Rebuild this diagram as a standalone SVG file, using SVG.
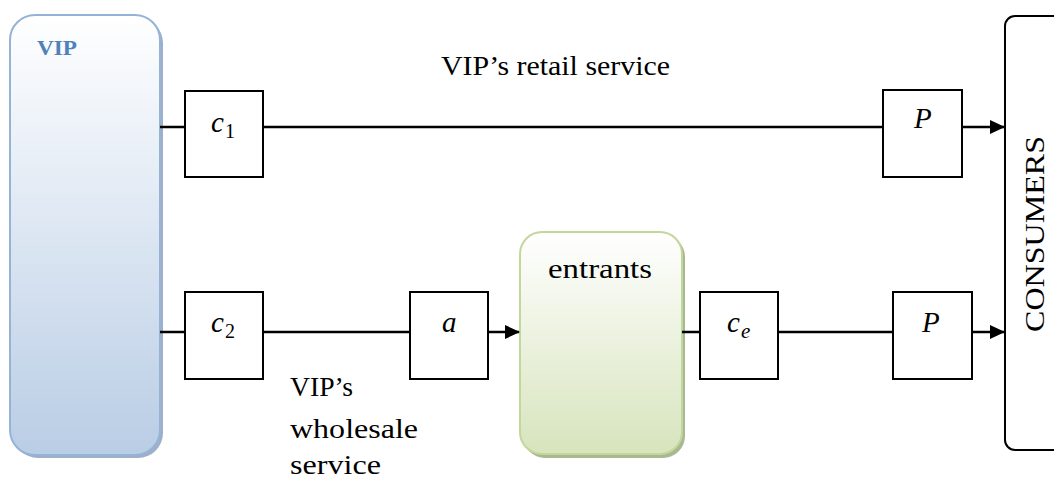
<svg xmlns="http://www.w3.org/2000/svg" width="1054" height="480" viewBox="0 0 1054 480">
<defs>
<linearGradient id="gBlue" x1="0" y1="0" x2="0" y2="1">
<stop offset="0" stop-color="#ffffff"/>
<stop offset="1" stop-color="#b9cde5"/>
</linearGradient>
<linearGradient id="gGreen" x1="0" y1="0" x2="0" y2="1">
<stop offset="0" stop-color="#ffffff"/>
<stop offset="1" stop-color="#d7e4bd"/>
</linearGradient>
<marker id="arr" markerWidth="15" markerHeight="14" refX="14" refY="7" orient="auto" markerUnits="userSpaceOnUse">
<path d="M0,0 L15,7 L0,14 Z" fill="#000"/>
</marker>
</defs>
<style>
.box{fill:#fff;stroke:#000;stroke-width:2}
.ln{stroke:#000;stroke-width:2.5;fill:none}
text{font-family:'Liberation Serif','DejaVu Serif',serif;fill:#000}
.m{font-style:italic;font-size:29px}
.sub{font-style:normal;font-size:20px}
.subi{font-style:italic;font-size:21px}
</style>
<rect width="1054" height="480" fill="#fff"/>
<g id="vip">
<rect x="13" y="18" width="150" height="440" rx="25" fill="#9eb0c8"/>
<rect x="10" y="15" width="150" height="440" rx="25" fill="url(#gBlue)" stroke="#95b3d7" stroke-width="2"/>
<text x="37" y="55" font-size="21" font-weight="bold" textLength="40" lengthAdjust="spacingAndGlyphs" style="fill:#4f81bd">VIP</text>
</g>
<g id="entrants">
<rect x="523" y="235" width="162" height="223" rx="22" fill="#a8b890"/>
<rect x="520" y="232" width="162" height="222" rx="22" fill="url(#gGreen)" stroke="#c3d69b" stroke-width="2"/>
<text x="548" y="278" font-size="27" textLength="104" lengthAdjust="spacingAndGlyphs">entrants</text>
</g>
<g id="consumers">
<rect x="1005" y="16" width="60" height="434" rx="10" fill="#fff" stroke="#000" stroke-width="2"/>
<text transform="translate(1044,234) rotate(-90)" font-size="28" text-anchor="middle" textLength="196" lengthAdjust="spacingAndGlyphs">CONSUMERS</text>
</g>
<g id="connectors">
<line class="ln" x1="160" y1="127" x2="185" y2="127"/>
<line class="ln" x1="263" y1="127" x2="883" y2="127"/>
<line class="ln" x1="962" y1="127" x2="1004" y2="127" marker-end="url(#arr)"/>
<line class="ln" x1="160" y1="332" x2="185" y2="332"/>
<line class="ln" x1="263" y1="332" x2="410" y2="332"/>
<line class="ln" x1="488" y1="332" x2="519" y2="332" marker-end="url(#arr)"/>
<line class="ln" x1="682" y1="332" x2="700" y2="332"/>
<line class="ln" x1="778" y1="332" x2="893" y2="332"/>
<line class="ln" x1="972" y1="332" x2="1004" y2="332" marker-end="url(#arr)"/>
</g>
<g id="c1">
<rect class="box" x="185" y="91" width="78" height="86"/>
<text x="211" y="132" class="m">c<tspan class="sub" x="225" y="138">1</tspan></text>
</g>
<g id="p1">
<rect class="box" x="883" y="90" width="79" height="87"/>
<text x="914" y="128" class="m">P</text>
</g>
<g id="c2">
<rect class="box" x="185" y="292" width="78" height="87"/>
<text x="211" y="332" class="m">c<tspan class="sub" x="225" y="338">2</tspan></text>
</g>
<g id="a">
<rect class="box" x="410" y="292" width="78" height="87"/>
<text x="442" y="332" class="m">a</text>
</g>
<g id="ce">
<rect class="box" x="700" y="292" width="78" height="87"/>
<text x="727" y="332" class="m">c<tspan class="subi" x="741" y="338">e</tspan></text>
</g>
<g id="p2">
<rect class="box" x="893" y="292" width="79" height="87"/>
<text x="922" y="332" class="m">P</text>
</g>
<g id="labels">
<text x="441" y="75" font-size="28" textLength="229" lengthAdjust="spacingAndGlyphs">VIP’s retail service</text>
<text x="290" y="396" font-size="27" textLength="63" lengthAdjust="spacingAndGlyphs">VIP’s</text>
<text x="290" y="438" font-size="27" textLength="128" lengthAdjust="spacingAndGlyphs">wholesale</text>
<text x="290" y="474" font-size="27" textLength="91" lengthAdjust="spacingAndGlyphs">service</text>
</g>
</svg>
